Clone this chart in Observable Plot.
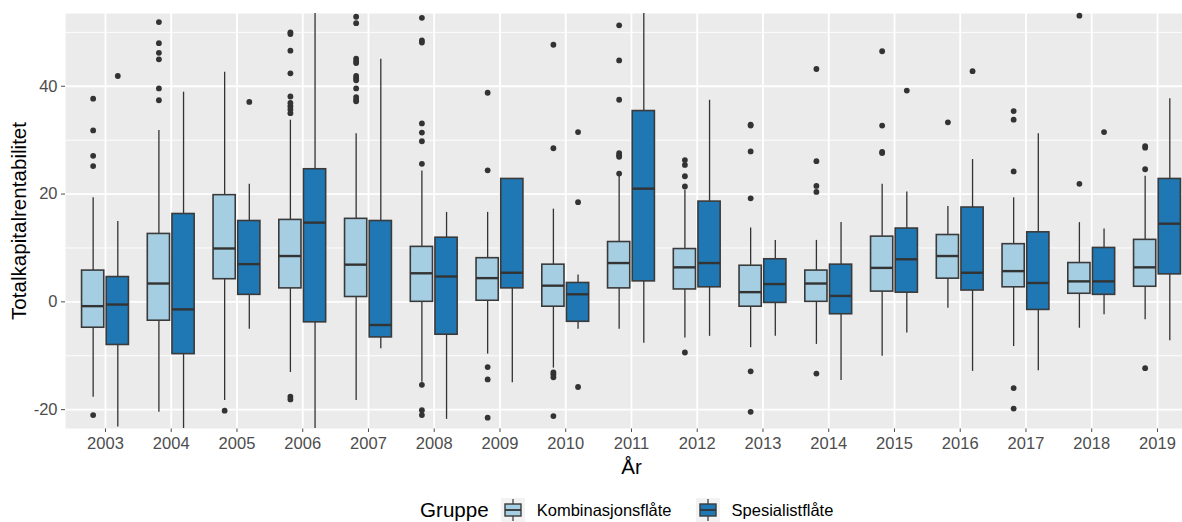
<!DOCTYPE html>
<html>
<head>
<meta charset="utf-8">
<script src="https://cdn.jsdelivr.net/npm/d3@7"></script>
<script src="https://cdn.jsdelivr.net/npm/@observablehq/plot@0.6"></script>
<style>
  html, body { margin: 0; padding: 0; background: #fff; }
  body { width: 1182px; height: 522px; overflow: hidden; font-family: "Liberation Sans", Arial, sans-serif; }
  #chart svg { display: block; }
  #legend { height: 24px; display: flex; align-items: center; padding-left: 420px; }
  #legend .title { font-size: 20.6px; color: #000; margin-right: 12px; }
  #legend .lab { font-size: 16.5px; color: #000; margin-left: 12px; margin-right: 24px; }
  #legend svg { display: block; }
</style>
</head>
<body>
<div id="chart"></div>
<div id="legend"></div>
<script>
// ---- data ----
const years = [2003, 2004, 2005, 2006, 2007, 2008, 2009, 2010, 2011, 2012, 2013, 2014, 2015, 2016, 2017, 2018, 2019];
const groups = ["Kombinasjonsflåte", "Spesialistflåte"];
const groupColors = ["#A6CEE3", "#1F78B4"];

// Kombinasjonsflåte box statistics
const kombLow  = [-17.7, -20.5, -18.3, -13.1, -18.3, -14.9, -9.7, -12.3, -5.1, -6.7, -8.5, -7.9, -10.1, -1.2, -8.3, -4.9, -3.3];
const kombQ1   = [-4.8, -3.5, 4.2, 2.5, 0.9, 0.0, 0.2, -0.9, 2.5, 2.3, -0.9, 0.0, 1.9, 4.3, 2.7, 1.5, 2.8];
const kombMed  = [-0.8, 3.4, 9.9, 8.5, 6.9, 5.3, 4.4, 3.0, 7.2, 6.4, 1.8, 3.4, 6.3, 8.5, 5.7, 3.8, 6.4];
const kombQ3   = [5.8, 12.6, 19.8, 15.2, 15.4, 10.2, 8.1, 6.9, 11.1, 9.8, 6.7, 5.8, 12.1, 12.4, 10.7, 7.2, 11.5];
const kombHigh = [19.3, 31.8, 42.6, 33.7, 31.2, 24.3, 16.6, 17.2, 23.4, 20.7, 13.7, 11.4, 21.8, 17.7, 19.3, 14.7, 23.3];
const kombOutliers = [
  [37.7, 31.8, 27.1, 25.2, -21.0],
  [51.9, 48.0, 46.2, 45.0, 39.6, 37.4],
  [-20.2],
  [50.0, 49.7, 46.6, 42.4, 38.1, 36.9, 36.3, 35.7, 35.0, -17.6, -18.1],
  [52.9, 51.7, 45.1, 44.6, 44.3, 41.9, 41.5, 41.1, 39.6, 38.0, 37.5, 37.2],
  [52.7, 48.5, 48.1, 33.1, 31.4, 29.8, 25.6, -15.4, -20.1, -21.0],
  [38.8, 24.4, -12.1, -14.4, -21.5],
  [47.7, 28.5, -13.1, -13.5, -14.0, -21.2],
  [51.3, 44.8, 37.5, 27.6, 27.2, 26.9, 23.8],
  [26.3, 25.4, 23.3, 21.4, -9.4],
  [32.9, 32.7, 27.9, 19.2, -12.9, -20.4],
  [43.2, 26.1, 21.5, 20.4, -13.3],
  [46.5, 32.7, 27.8, 27.6],
  [33.3],
  [35.4, 33.8, 24.2, -16.0, -19.8],
  [53.1, 21.9],
  [28.9, 28.6, 24.6, -12.3]
];

// Spesialistflåte box statistics
const spesLow  = [-23.2, -30, -5.1, -35, -8.7, -21.8, -15.0, -5.1, -7.7, -6.4, -6.4, -14.6, -5.8, -12.9, -12.8, -2.4, -7.2];
const spesQ1   = [-8.0, -9.7, 1.3, -3.8, -6.6, -6.1, 2.5, -3.7, 3.8, 2.7, -0.2, -2.3, 1.7, 2.1, -1.5, 1.3, 5.1];
const spesMed  = [-0.5, -1.4, 7.0, 14.7, -4.3, 4.7, 5.4, 1.4, 21.0, 7.2, 3.3, 1.1, 7.9, 5.4, 3.5, 3.8, 14.5];
const spesQ3   = [4.6, 16.3, 15.0, 24.6, 15.0, 11.9, 22.8, 3.5, 35.4, 18.6, 7.9, 6.9, 13.6, 17.5, 12.9, 10.0, 22.8];
const spesHigh = [14.9, 38.9, 21.8, 60, 45.0, 16.6, 22.8, 5.0, 60, 37.4, 11.4, 14.7, 20.4, 26.4, 31.2, 13.5, 37.7];
const spesOutliers = [
  [41.9], [], [37.1], [], [], [], [], [31.5, 18.5, -15.8], [], [], [], [], [39.2], [42.8], [], [31.5], []
];

const majorTicks = [-20, 0, 20, 40];
const minorTicks = [-10, 10, 30, 50];
const yTitle = "Totalkapitalrentabilitet";
const xTitle = "År";
const legendTitle = "Gruppe";

// ---- build tables ----
const stats = [
  [kombLow, kombQ1, kombMed, kombQ3, kombHigh, kombOutliers],
  [spesLow, spesQ1, spesMed, spesQ3, spesHigh, spesOutliers]
];
const boxes = [];
const outliers = [];
stats.forEach(([lo, q1, med, q3, hi, out], g) => {
  years.forEach((year, i) => {
    boxes.push({year, g, group: groups[g], lo: lo[i], q1: q1[i], med: med[i], q3: q3[i], hi: hi[i]});
    out[i].forEach(v => outliers.push({year, g, group: groups[g], value: v}));
  });
});

// dodge layout (in category units, like ggplot's position_dodge2 with width 0.75)
const dodge = 0.75, pad = 0.1;
const slot = dodge / groups.length;
const half = slot * (1 - pad) / 2;
const cx = d => d.year - dodge / 2 + slot * (d.g + 0.5);

const chart = Plot.plot({
  width: 1182,
  height: 498,
  marginTop: 13,
  marginBottom: 70,
  marginLeft: 65,
  marginRight: 0,
  x: {type: "linear", domain: [years[0] - 0.608, years[0] + 1117 / 65.75 - 0.608],
      ticks: years, tickFormat: d => String(d), tickSize: 4, tickPadding: 5, label: null},
  y: {domain: [-23.5, 53.5], clamp: true,
      ticks: majorTicks, tickFormat: d => String(d), tickSize: 4, tickPadding: 4, label: null},
  color: {domain: groups, range: groupColors},
  style: {fontFamily: '"Liberation Sans", Arial, sans-serif', fontSize: "16.5px", background: "white", color: "#4D4D4D"},
  marks: [
    Plot.frame({fill: "#EBEBEB", stroke: null}),
    Plot.ruleY(minorTicks, {y: d => d, stroke: "white", strokeWidth: 0.9}),
    Plot.ruleY(majorTicks, {y: d => d, stroke: "white", strokeWidth: 1.8}),
    Plot.ruleX(years, {x: d => d, stroke: "white", strokeWidth: 1.8}),
    Plot.ruleX(boxes, {x: cx, y1: "lo", y2: "q1", stroke: "#333", strokeWidth: 1.3}),
    Plot.ruleX(boxes, {x: cx, y1: "q3", y2: "hi", stroke: "#333", strokeWidth: 1.3}),
    Plot.rect(boxes, {x1: d => cx(d) - half, x2: d => cx(d) + half, y1: "q1", y2: "q3", fill: "group", stroke: "#3a3a3a", strokeWidth: 1.6}),
    Plot.ruleY(boxes, {y: "med", x1: d => cx(d) - half, x2: d => cx(d) + half, stroke: "#333", strokeWidth: 2.4}),
    Plot.dot(outliers, {x: cx, y: "value", r: 2.9, fill: "#333", stroke: null}),
    Plot.text([xTitle], {x: () => (years[0] + years[years.length - 1]) / 2, text: d => d, frameAnchor: "bottom", lineAnchor: "bottom", dy: 45, fontSize: 20.6, fill: "black"}),
    Plot.text([yTitle], {text: d => d, frameAnchor: "left", textAnchor: "middle", rotate: -90, dx: -46, fontSize: 20.6, fill: "black"})
  ]
});
document.getElementById("chart").appendChild(chart);

// ---- legend (HTML, below the plot) ----
function keySvg(color) {
  const ns = "http://www.w3.org/2000/svg";
  const s = document.createElementNS(ns, "svg");
  s.setAttribute("width", 24); s.setAttribute("height", 24);
  s.innerHTML =
    `<rect x="0" y="0" width="24" height="24" fill="#F2F2F2"/>` +
    `<line x1="12" x2="12" y1="1" y2="23" stroke="#333" stroke-width="1.2"/>` +
    `<rect x="4" y="6" width="16" height="12" fill="${color}" stroke="#3a3a3a" stroke-width="1.4"/>` +
    `<line x1="4" x2="20" y1="12" y2="12" stroke="#333" stroke-width="1.8"/>`;
  return s;
}
const legend = document.getElementById("legend");
const t = document.createElement("span");
t.className = "title"; t.textContent = legendTitle;
legend.appendChild(t);
groups.forEach((g, i) => {
  legend.appendChild(keySvg(groupColors[i]));
  const l = document.createElement("span");
  l.className = "lab"; l.textContent = g;
  legend.appendChild(l);
});
</script>
</body>
</html>
